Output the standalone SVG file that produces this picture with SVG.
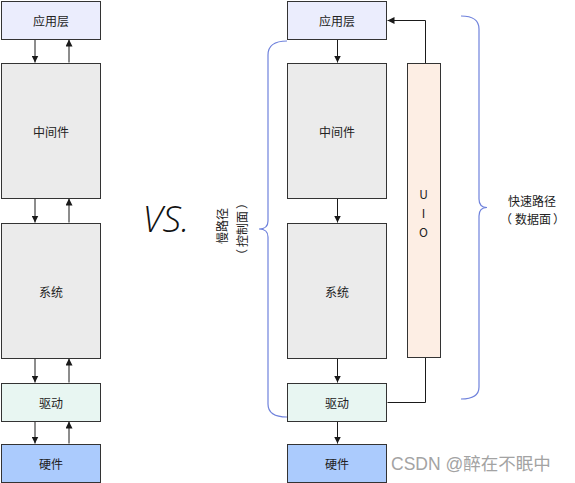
<svg xmlns="http://www.w3.org/2000/svg" width="575" height="483" viewBox="0 0 575 483">
<defs>
<marker id="arr" markerWidth="7" markerHeight="7" refX="7" refY="3.5" orient="auto" markerUnits="userSpaceOnUse">
<path d="M0,0 L7,3.5 L0,7 z" fill="#1a1a1a"/>
</marker>
<style>
.box{stroke:#333;stroke-width:1}
.app{fill:#ebedfd}
.gray{fill:#ebebeb}
.drv{fill:#e8f6f2}
.hw{fill:#abcbfd}
.uio{fill:#fdeee4}
.lbl{font-family:"Noto Sans CJK SC","Noto Sans",sans-serif;font-size:12px;fill:#222;text-anchor:middle;dominant-baseline:central}
.con{stroke:#1a1a1a;stroke-width:1;fill:none}
.brace{stroke:#6f82dc;stroke-width:1.2;fill:none}
</style>
</defs>
<rect width="575" height="483" fill="#fff"/>

<g id="connectors">
<line class="con" x1="35" y1="39.5" x2="35" y2="62.5" marker-end="url(#arr)"/>
<line class="con" x1="69" y1="62.5" x2="69" y2="39.5" marker-end="url(#arr)"/>
<line class="con" x1="35" y1="198.5" x2="35" y2="222.5" marker-end="url(#arr)"/>
<line class="con" x1="69" y1="222.5" x2="69" y2="198.5" marker-end="url(#arr)"/>
<line class="con" x1="35" y1="358.5" x2="35" y2="382.5" marker-end="url(#arr)"/>
<line class="con" x1="69" y1="382.5" x2="69" y2="358.5" marker-end="url(#arr)"/>
<line class="con" x1="35" y1="421.5" x2="35" y2="443.5" marker-end="url(#arr)"/>
<line class="con" x1="69" y1="443.5" x2="69" y2="421.5" marker-end="url(#arr)"/>

<line class="con" x1="337.5" y1="39.5" x2="337.5" y2="62.5" marker-end="url(#arr)"/>
<line class="con" x1="337.5" y1="198.5" x2="337.5" y2="222.5" marker-end="url(#arr)"/>
<line class="con" x1="337.5" y1="358.5" x2="337.5" y2="382.5" marker-end="url(#arr)"/>
<line class="con" x1="337.5" y1="421.5" x2="337.5" y2="443.5" marker-end="url(#arr)"/>
<path class="con" d="M425.5,63.5 L425.5,20.5 L387.5,20.5" marker-end="url(#arr)"/>
<path class="con" d="M425.5,357.5 L425.5,402.5 L387.5,402.5"/>
</g>

<g id="left-app"><rect class="box app" x="1.5" y="1.5" width="99" height="38"/><text class="lbl" x="51" y="20.5">应用层</text></g>
<g id="left-mid"><rect class="box gray" x="1.5" y="63.5" width="99" height="135"/><text class="lbl" x="51" y="131">中间件</text></g>
<g id="left-sys"><rect class="box gray" x="1.5" y="223.5" width="99" height="135"/><text class="lbl" x="51" y="291">系统</text></g>
<g id="left-drv"><rect class="box drv" x="1.5" y="383.5" width="99" height="38"/><text class="lbl" x="51" y="402.5">驱动</text></g>
<g id="left-hw"><rect class="box hw" x="1.5" y="444.5" width="99" height="38"/><text class="lbl" x="51" y="463.5">硬件</text></g>

<g id="vs"><text x="166" y="232" font-family="'Open Sans','DejaVu Sans',sans-serif" font-style="italic" font-weight="300" font-size="37" fill="#111" text-anchor="middle">VS.</text></g>

<g id="right-app"><rect class="box app" x="287.5" y="1.5" width="99" height="38"/><text class="lbl" x="337" y="20.5">应用层</text></g>
<g id="right-mid"><rect class="box gray" x="287.5" y="63.5" width="99" height="135"/><text class="lbl" x="337" y="131">中间件</text></g>
<g id="right-sys"><rect class="box gray" x="287.5" y="223.5" width="99" height="135"/><text class="lbl" x="337" y="291">系统</text></g>
<g id="right-drv"><rect class="box drv" x="287.5" y="383.5" width="99" height="38"/><text class="lbl" x="337" y="402.5">驱动</text></g>
<g id="right-hw"><rect class="box hw" x="287.5" y="444.5" width="99" height="38"/><text class="lbl" x="337" y="463.5">硬件</text></g>
<g id="uio"><rect class="box uio" x="407.5" y="63.5" width="33" height="294"/>
<text class="lbl" x="423.5" y="193">U</text><text class="lbl" x="423.5" y="212">I</text><text class="lbl" x="423.5" y="231">O</text></g>

<g id="slow-brace">
<path class="brace" d="M287,41 Q268,41 268,55 L268,221 Q268,229 259,229 Q268,229 268,237 L268,404 Q268,417 287,417"/>
<text class="lbl" transform="translate(221,226) rotate(-90)" x="0" y="0">慢路径</text>
<text class="lbl" transform="translate(241,229) rotate(-90)"><tspan x="-26" y="0">（</tspan><tspan x="0" y="0">控制面</tspan><tspan x="26" y="0">）</tspan></text>
</g>
<g id="fast-brace">
<path class="brace" d="M461,16 Q479,16 479,29 L479,199 Q479,207.5 487,207.5 Q479,207.5 479,216 L479,387 Q479,399 461,399"/>
<text class="lbl" x="532" y="200">快速路径</text>
<text class="lbl"><tspan x="506" y="218">（</tspan><tspan x="533" y="218">数据面</tspan><tspan x="559" y="218">）</tspan></text>
</g>

<text x="391" y="469.5" font-family="'Liberation Sans','Noto Sans CJK SC',sans-serif" font-size="17.5" fill="#a3a3a3">CSDN @醉在不眠中</text>
</svg>
